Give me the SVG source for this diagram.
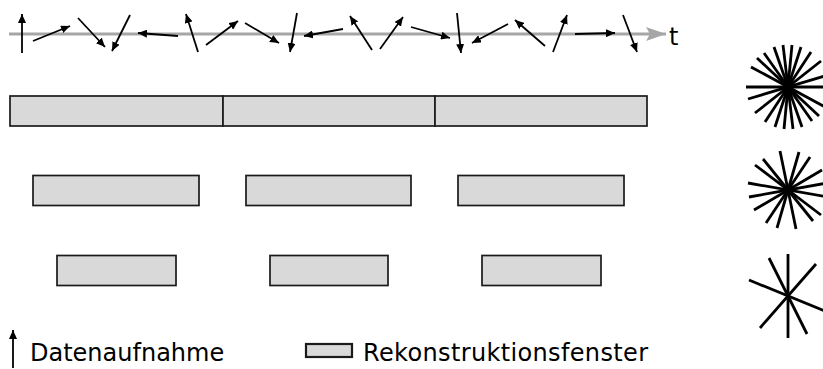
<svg xmlns="http://www.w3.org/2000/svg" width="823" height="369" viewBox="0 0 823 369">
  <style>
    .axis { stroke: #a6a6a6; stroke-width: 3; fill: none; }
    .acq { stroke: #000; stroke-width: 1.8; fill: none; marker-end: url(#tip); }
    .win { fill: #d9d9d9; stroke: #1a1a1a; stroke-width: 1.7; }
    .key { fill: #d9d9d9; stroke: #1a1a1a; stroke-width: 2.2; }
    .spoke { stroke: #000; stroke-width: 2.8; stroke-linecap: butt; }
    .label { font-family: "DejaVu Sans", Verdana, sans-serif; font-size: 24px; fill: #000; }
  </style>
  <defs>
    <marker id="tip" markerUnits="userSpaceOnUse" markerWidth="10" markerHeight="8" refX="9" refY="4" orient="auto">
      <path d="M0,0 L9,4 L0,8 Z" fill="#000"/>
    </marker>
    <marker id="axisTip" markerUnits="userSpaceOnUse" markerWidth="22" markerHeight="14" refX="20" refY="7" orient="auto">
      <path d="M0,0 L20,7 L0,14 L4,7 Z" fill="#a6a6a6"/>
    </marker>
  </defs>

  <!-- time axis -->
  <g id="time-axis">
    <line class="axis" x1="9" y1="34" x2="666" y2="34" marker-end="url(#axisTip)"/>
    <text class="label" x="669" y="45">t</text>
  </g>

  <!-- acquired data samples along the axis -->
  <g id="connectors">
    <line class="acq" x1="22" y1="53" x2="22" y2="14"/>
    <line class="acq" x1="33" y1="41" x2="70" y2="26"/>
    <line class="acq" x1="78" y1="18" x2="105" y2="47"/>
    <line class="acq" x1="130" y1="15" x2="112" y2="51"/>
    <line class="acq" x1="178" y1="36" x2="138" y2="33"/>
    <line class="acq" x1="198" y1="52" x2="186" y2="14"/>
    <line class="acq" x1="206" y1="45" x2="238" y2="21"/>
    <line class="acq" x1="245" y1="23" x2="279" y2="43"/>
    <line class="acq" x1="297" y1="13" x2="290" y2="52"/>
    <line class="acq" x1="343" y1="29" x2="304" y2="36"/>
    <line class="acq" x1="372" y1="50" x2="350" y2="16"/>
    <line class="acq" x1="380" y1="49" x2="403" y2="17"/>
    <line class="acq" x1="411" y1="27" x2="450" y2="38"/>
    <line class="acq" x1="457" y1="13" x2="461" y2="53"/>
    <line class="acq" x1="508" y1="24" x2="472" y2="43"/>
    <line class="acq" x1="545" y1="46" x2="515" y2="20"/>
    <line class="acq" x1="553" y1="52" x2="567" y2="15"/>
    <line class="acq" x1="575" y1="34" x2="615" y2="33"/>
    <line class="acq" x1="623" y1="15" x2="637" y2="52"/>
  </g>

  <!-- reconstruction windows, row 1 -->
  <g id="row1-win1"><rect class="win" x="10" y="96" width="213" height="30"/></g>
  <g id="row1-win2"><rect class="win" x="223" y="96" width="212" height="30"/></g>
  <g id="row1-win3"><rect class="win" x="435" y="96" width="212" height="30"/></g>

  <!-- reconstruction windows, row 2 -->
  <g id="row2-win1"><rect class="win" x="33" y="175.5" width="166" height="30"/></g>
  <g id="row2-win2"><rect class="win" x="246" y="175.5" width="165" height="30"/></g>
  <g id="row2-win3"><rect class="win" x="458" y="175.5" width="166" height="30"/></g>

  <!-- reconstruction windows, row 3 -->
  <g id="row3-win1"><rect class="win" x="57" y="255.5" width="119" height="30"/></g>
  <g id="row3-win2"><rect class="win" x="270" y="255.5" width="118" height="30"/></g>
  <g id="row3-win3"><rect class="win" x="482" y="255.5" width="119" height="30"/></g>

  <!-- radial sampling patterns -->
  <g id="star-dense" transform="translate(788,87)">
    <g class="spoke">
      <line x1="-42" y1="0" x2="42" y2="0"/>
      <line x1="-5" y1="-42" x2="5" y2="42"/>
      <line x1="4" y1="-42" x2="-4" y2="42"/>
      <line x1="-14" y1="-40" x2="14" y2="40"/>
      <line x1="13" y1="-40" x2="-13" y2="40"/>
      <line x1="-31" y1="-29" x2="31" y2="29"/>
      <line x1="-37" y1="-20" x2="37" y2="20"/>
      <line x1="23" y1="-35" x2="-23" y2="35"/>
      <line x1="33" y1="-26" x2="-33" y2="26"/>
      <line x1="40" y1="-12" x2="-40" y2="12"/>
      <line x1="-24" y1="-34" x2="24" y2="34"/>
    </g>
  </g>

  <g id="star-medium" transform="translate(788,190)">
    <g class="spoke">
      <line x1="-40" y1="-7" x2="40" y2="7"/>
      <line x1="-8" y1="-39" x2="8" y2="39"/>
      <line x1="11" y1="-38" x2="-11" y2="38"/>
      <line x1="22" y1="-33" x2="-22" y2="33"/>
      <line x1="-25" y1="-31" x2="25" y2="31"/>
      <line x1="-33" y1="-25" x2="33" y2="25"/>
      <line x1="34" y1="-20" x2="-34" y2="20"/>
      <line x1="-39" y1="7" x2="39" y2="-7"/>
    </g>
  </g>

  <g id="star-sparse" transform="translate(788,296)">
    <g class="spoke">
      <line x1="0" y1="-42" x2="0" y2="42"/>
      <line x1="-19" y1="-38" x2="19" y2="38"/>
      <line x1="28" y1="-32" x2="-28" y2="32"/>
      <line x1="-39" y1="-16" x2="39" y2="16"/>
    </g>
  </g>

  <!-- legend -->
  <g id="legend-acq">
    <line class="acq" x1="13" y1="368" x2="13" y2="330"/>
    <text class="label" x="30" y="361">Datenaufnahme</text>
  </g>
  <g id="legend-window">
    <rect class="key" x="306" y="344" width="46" height="13"/>
    <text class="label" x="363" y="361" textLength="285" lengthAdjust="spacing">Rekonstruktionsfenster</text>
  </g>
</svg>
